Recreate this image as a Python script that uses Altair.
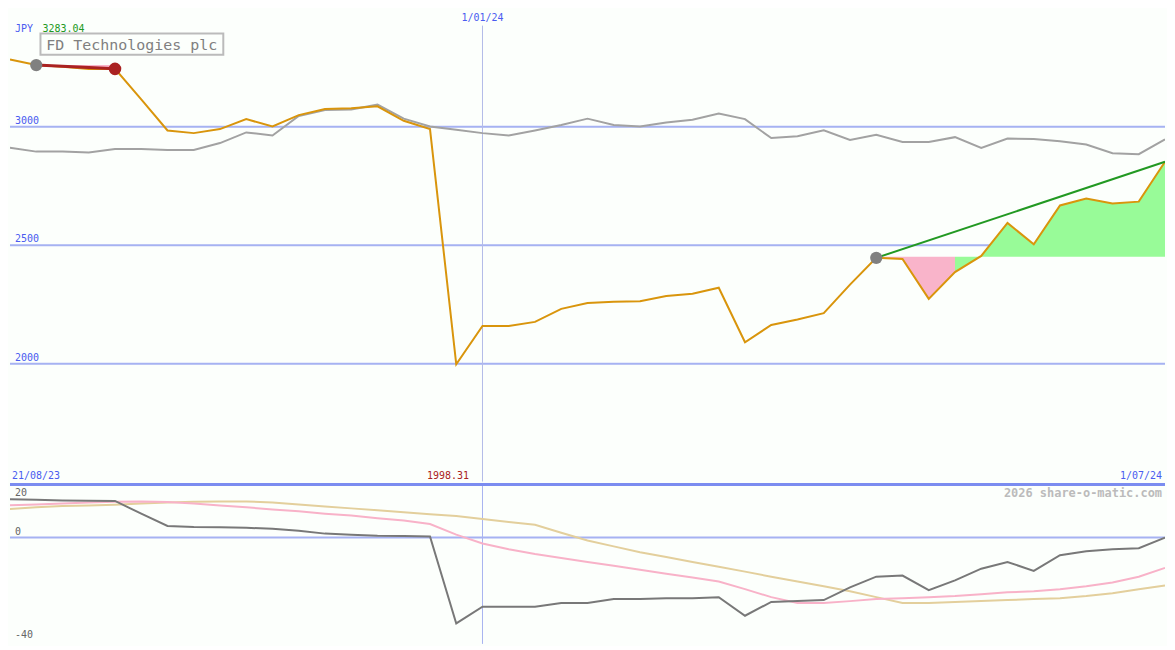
import altair as alt
import pandas as pd

# ---------------- data ----------------
dates = list(pd.date_range("2023-08-28", periods=45, freq="7D"))

price = [3283.04, 3260, 3253, 3243, 3244, 3115, 2984, 2973, 2990, 3032,
         3001, 3049, 3075, 3078, 3086, 3025, 2990, 1998.31, 2160, 2160,
         2177, 2232, 2257, 2262, 2264, 2286, 2296, 2321, 2091, 2164,
         2187, 2214, 2334, 2447, 2442, 2274, 2387, 2455, 2594, 2504,
         2668, 2697, 2676, 2684, 2852]

index_line = [2911, 2895, 2895, 2891, 2906, 2906, 2902, 2902, 2931, 2976,
              2963, 3045, 3070, 3073, 3093, 3034, 3001, 2987, 2973, 2963,
              2984, 3007, 3034, 3007, 3001, 3018, 3029, 3056, 3032, 2952,
              2960, 2985, 2944, 2966, 2936, 2936, 2956, 2911, 2950, 2948,
              2939, 2925, 2888, 2884, 2947]

osc_dark = [14.4, 14.2, 14.0, 13.9, 13.8, 9.0, 4.4, 4.0, 3.9, 3.7,
            3.3, 2.6, 1.5, 1.1, 0.7, 0.6, 0.4, -32.3, -26.0, -26.0,
            -26.0, -24.6, -24.6, -23.1, -23.1, -22.8, -22.8, -22.4, -29.4, -24.2,
            -23.9, -23.5, -18.7, -14.7, -14.3, -19.8, -16.1, -11.7, -9.2, -12.5,
            -6.6, -5.1, -4.4, -4.0, 0.0]

osc_pink = [12.2, 12.5, 12.8, 13.2, 13.5, 13.6, 13.4, 12.8, 12.1, 11.4,
            10.6, 9.9, 9.0, 8.3, 7.3, 6.4, 5.1, 1.1, -2.2, -4.4,
            -6.2, -7.7, -9.2, -10.6, -12.1, -13.6, -15.0, -16.5, -19.4, -22.4,
            -24.6, -24.6, -23.9, -23.1, -22.8, -22.4, -22.0, -21.3, -20.6, -20.2,
            -19.4, -18.3, -16.9, -14.7, -11.4]

osc_tan = [10.8, 11.4, 11.9, 12.1, 12.4, 12.8, 13.2, 13.5, 13.6, 13.6,
           13.2, 12.5, 11.7, 11.0, 10.3, 9.5, 8.8, 8.1, 7.0, 5.9,
           4.8, 1.8, -1.1, -3.3, -5.5, -7.3, -9.2, -11.0, -12.8, -14.7,
           -16.5, -18.3, -20.2, -22.4, -24.6, -24.6, -24.2, -23.9, -23.5, -23.1,
           -22.8, -22.0, -20.9, -19.4, -18.0]

grid_top = [3000, 2500, 2000]
grid_top_labels = ["3000", "2500", "2000"]
year_mark = [pd.Timestamp("2024-01-01")]
year_label = ["1/01/24"]
start_label = "21/08/23"
end_label = "1/07/24"
low_label = "1998.31"
high_label = "3283.04"
currency = "JPY"
title = "FD Technologies plc"
credit = "2026 share-o-matic.com"
fill_base = 2452
bot_values = [20, 0, -40]
bot_labels = ["20", "0", "-40"]

# ---------------- layout ----------------
W = 1159
H_TOP = 474
H_BOT = 160
sx = W / 1175
sy = H_TOP / 486
sb = H_BOT / 163
FONT = "DejaVu Sans Mono"
BLUE = "#4a5cf0"
GRID = "#a6b2f2"
ORANGE = "#d9950c"

df = pd.DataFrame({"date": dates, "price": price, "idx": index_line,
                   "dark": osc_dark, "pink": osc_pink, "tan": osc_tan})

xscale = alt.Scale(domain=[alt.DateTime(year=2023, month=8, date=28),
                           alt.DateTime(year=2024, month=7, date=1)])
X = alt.X("date:T", scale=xscale, axis=None)
ytop = alt.Scale(domain=[1504, 3496], nice=False, zero=False)
ybot = alt.Scale(domain=[-40, 20], nice=False, zero=False)

grid_df = pd.DataFrame({"v": grid_top, "lab": grid_top_labels})
year_df = pd.DataFrame({"date": year_mark, "lab": year_label})
base = alt.Chart(df)


def note(text, x, y, color, align="left", size=10, weight="normal"):
    return alt.Chart(pd.DataFrame({"t": [text]})).mark_text(
        align=align, baseline="middle", font=FONT, fontSize=size,
        fontWeight=weight, color=color
    ).encode(x=alt.value(x), y=alt.value(y), text="t:N")


# --- top panel ---
grid_rules = alt.Chart(grid_df).mark_rule(color=GRID, strokeWidth=2).encode(
    y=alt.Y("v:Q", scale=ytop, axis=None))
grid_text = alt.Chart(grid_df).mark_text(
    align="left", baseline="bottom", dy=-1, font=FONT, fontSize=10, color=BLUE
).encode(x=alt.value(5 * sx), y=alt.Y("v:Q", scale=ytop, axis=None), text="lab:N")

vrule_top = alt.Chart(year_df).mark_rule(color="#b4bce8", strokeWidth=1).encode(
    x=X, y=alt.value(17 * sy), y2=alt.value(H_TOP))
vtext_top = alt.Chart(year_df).mark_text(
    align="center", baseline="middle", font=FONT, fontSize=10, color=BLUE
).encode(x=X, y=alt.value(9 * sy), text="lab:N")

idx_line = base.mark_line(color="#a2a2a2", strokeWidth=2, clip=True).encode(
    x=X, y=alt.Y("idx:Q", scale=ytop, axis=None))

pink_fill = alt.Chart(df.iloc[33:37]).mark_area(color="#f9b4ca", opacity=1, clip=True).encode(
    x=X, y=alt.Y("price:Q", scale=ytop, axis=None), y2=alt.datum(fill_base))
green_fill = alt.Chart(df.iloc[36:45]).mark_area(color="#98fb98", opacity=1, clip=True).encode(
    x=X, y=alt.Y("price:Q", scale=ytop, axis=None), y2=alt.datum(fill_base))
pink_small = alt.Chart(df.iloc[1:5]).mark_area(color="#f9b4ca", opacity=1).encode(
    x=X, y=alt.Y("price:Q", scale=ytop, axis=None), y2=alt.datum(price[1]))

price_line = base.mark_line(color=ORANGE, strokeWidth=2, clip=True).encode(
    x=X, y=alt.Y("price:Q", scale=ytop, axis=None))

trend = alt.Chart(df.iloc[[33, 44]]).mark_line(color="#229922", strokeWidth=2, clip=True).encode(
    x=X, y=alt.Y("price:Q", scale=ytop, axis=None))
red_line = alt.Chart(df.iloc[[1, 4]]).mark_line(color="#aa2222", strokeWidth=3).encode(
    x=X, y=alt.Y("price:Q", scale=ytop, axis=None))

gray_pts = alt.Chart(df.iloc[[1, 33]]).mark_circle(color="#808080", size=150, opacity=1).encode(
    x=X, y=alt.Y("price:Q", scale=ytop, axis=None))
red_pts = alt.Chart(df.iloc[[4]]).mark_circle(color="#aa2222", size=160, opacity=1).encode(
    x=X, y=alt.Y("price:Q", scale=ytop, axis=None))

box = alt.Chart(pd.DataFrame({"t": [title]})).mark_rect(
    fill="#fcfffc", stroke="#bbbbbb", strokeWidth=2).encode(
    x=alt.value(31 * sx), x2=alt.value(217 * sx),
    y=alt.value(25 * sy), y2=alt.value(47 * sy))
title_txt = note(title, 37 * sx, 36.5 * sy, "#808080", size=15)
jpy_txt = note(currency, 5 * sx, 20 * sy, BLUE)
hi_txt = note(high_label, 33 * sx, 20 * sy, "#229922")
start_txt = note(start_label, 2 * sx, 480 * sy, BLUE)
low_txt = note(low_label, 467 * sx, 480 * sy, "#aa2222", align="right")
end_txt = note(end_label, 1172 * sx, 480 * sy, BLUE, align="right")

top = alt.layer(
    grid_rules, vrule_top, idx_line, pink_small, pink_fill, green_fill,
    price_line, trend, red_line, gray_pts, red_pts, grid_text, vtext_top,
    box, title_txt, jpy_txt, hi_txt, start_txt, low_txt, end_txt
).properties(width=W, height=H_TOP)

# --- bottom panel ---
bot_lab_df = pd.DataFrame({"v": bot_values, "lab": bot_labels})

zero_rule = alt.Chart(pd.DataFrame({"v": [0]})).mark_rule(color=GRID, strokeWidth=2).encode(
    y=alt.Y("v:Q", scale=ybot, axis=None))
sep_rule = alt.Chart(pd.DataFrame({"v": [20]})).mark_rule(color="#7b8cf0", strokeWidth=3).encode(
    y=alt.Y("v:Q", scale=ybot, axis=None))
vrule_bot = alt.Chart(year_df).mark_rule(color="#a8b4f0", strokeWidth=1).encode(
    x=X, y=alt.value(0), y2=alt.value(H_BOT))
tan_line = base.mark_line(color="#e3cf9c", strokeWidth=2, clip=True).encode(
    x=X, y=alt.Y("tan:Q", scale=ybot, axis=None))
pink_line = base.mark_line(color="#f8b2c8", strokeWidth=2, clip=True).encode(
    x=X, y=alt.Y("pink:Q", scale=ybot, axis=None))
dark_line = base.mark_line(color="#787878", strokeWidth=2, clip=True).encode(
    x=X, y=alt.Y("dark:Q", scale=ybot, axis=None))


def bot_label(i, dy):
    return alt.Chart(bot_lab_df.iloc[[i]]).mark_text(
        align="left", baseline="middle", dy=dy, font=FONT, fontSize=10, color="#666666"
    ).encode(x=alt.value(5 * sx), y=alt.Y("v:Q", scale=ybot, axis=None), text="lab:N")


lab20 = bot_label(0, 9)
lab0 = bot_label(1, -6)
lab40 = bot_label(2, -9)
credit_txt = note(credit, 1172 * sx, 9 * sb, "#bbbbbb", align="right", size=12, weight="bold")

bottom = alt.layer(
    zero_rule, vrule_bot, tan_line, pink_line, dark_line, sep_rule,
    lab20, lab0, lab40, credit_txt
).properties(width=W, height=H_BOT)

chart = alt.vconcat(top, bottom, spacing=0).properties(
    padding=0, background="#fcfffc"
).configure_view(stroke=None).configure_concat(spacing=0)

chart.save("out.html", embed_options={"renderer": "svg", "actions": False})
